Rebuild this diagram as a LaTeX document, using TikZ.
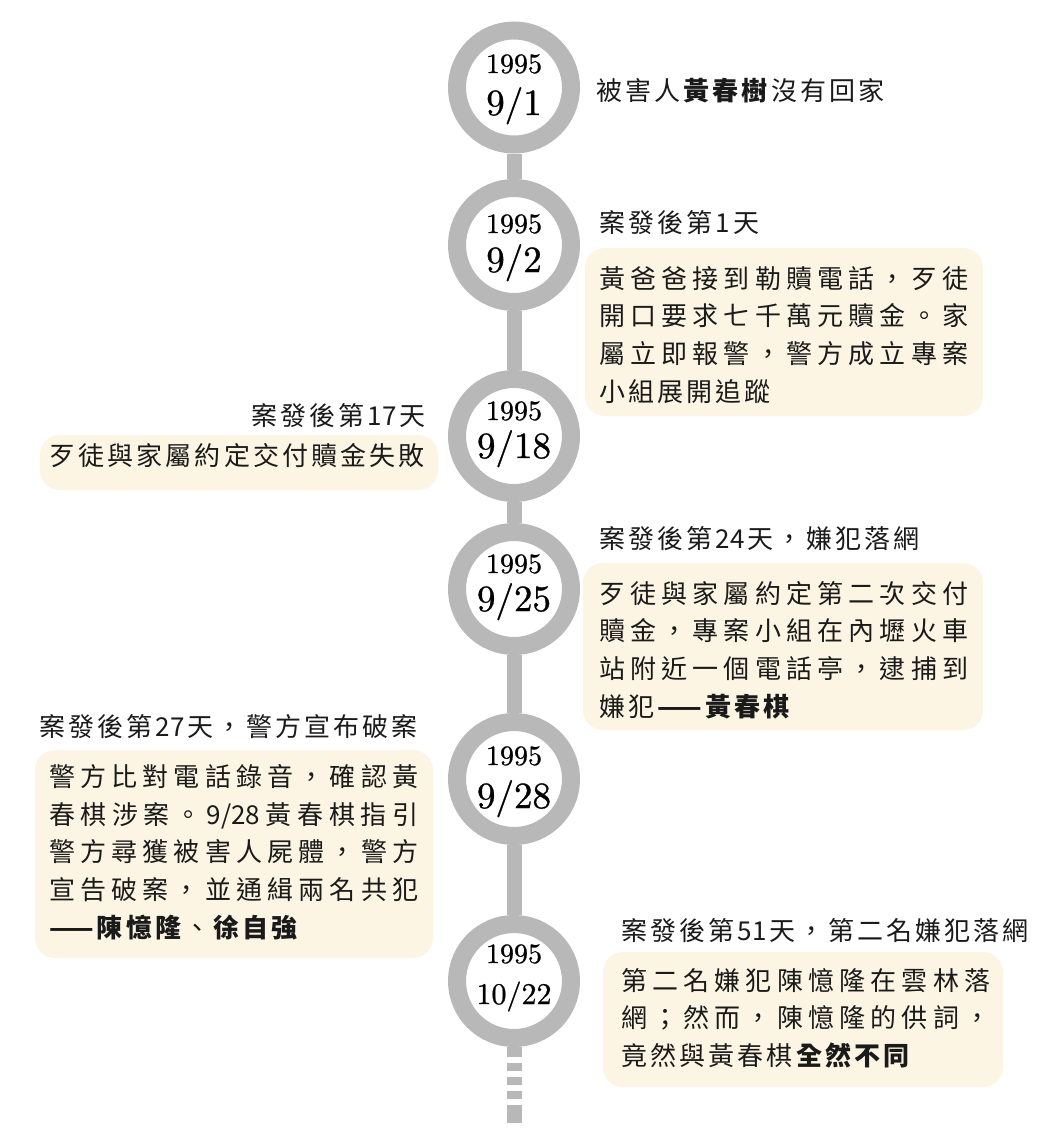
\documentclass[tikz,border=0pt]{standalone}
\usepackage{fontspec}
\setmainfont{Noto Sans CJK TC}
\newfontfamily\datefont{lmroman10-regular.otf}[FakeBold=0.8]
\definecolor{ringgray}{RGB}{184,184,184}
\definecolor{cream}{RGB}{253,245,228}
\definecolor{inkc}{RGB}{26,26,26}
\newlength\bodyw
\setlength\bodyw{369pt}
\def\cjkgap{3.15pt}
\makeatletter
\def\sp@end{\sp@end}
\def\spreadwith#1#2{\def\sp@sep{#1}\sp@a#2\sp@end}
\def\sp@a#1{{#1}\sp@b}
\def\sp@b#1{\ifx\sp@end#1\else\sp@sep{#1}\expandafter\sp@b\fi}
\def\BS#1{{\bfseries\expandafter\spreadwith\expandafter{\sp@sep}{#1}}}
\makeatother
\newcommand\JL[1]{\hbox to \bodyw{\spreadwith{\hfill}{#1}}}
\newcommand\NL[1]{\hbox{\spreadwith{\hskip\cjkgap}{#1}}}
\tikzset{
  ringc/.style={circle, draw=ringgray, fill=white, line width=18pt, minimum size=114pt, inner sep=0pt},
  spine/.style={draw=ringgray, line width=15pt},
  yearlbl/.style={anchor=base, inner sep=0pt, text=black, font=\datefont\fontsize{28}{28}\selectfont},
  datelbl/.style={anchor=base, inner sep=0pt, text=black, font=\datefont\fontsize{37}{37}\selectfont},
  datesm/.style={datelbl, font=\datefont\fontsize{30}{30}\selectfont},
  cjk/.style={inner sep=0pt, text=inkc, font=\fontsize{26}{37.8}\selectfont},
  boxfill/.style={fill=cream, rounded corners=20pt}
}
\begin{document}
\begin{tikzpicture}[x=1pt,y=-1pt]
\useasboundingbox (0,0) rectangle (1044,1138);
\fill[white] (0,0) rectangle (1044,1138);

% boxes
\path[boxfill] (585,248) rectangle (983,416);
\path[boxfill] (40,435) rectangle (438,490);
\path[boxfill] (583,563) rectangle (983,730);
\path[boxfill] (35,750) rectangle (433,958);
\path[boxfill] (603,952) rectangle (1003,1087);

% circles
\node[ringc] (c1) at (514,87.5) {};
\node[ringc] (c2) at (514,245) {};
\node[ringc] (c3) at (514,436) {};
\node[ringc] (c4) at (514,589) {};
\node[ringc] (c5) at (514,779) {};
\node[ringc] (c6) at (514,981) {};
\coordinate (tail) at (514,1123);

\draw[spine] (c1) -- (c2);
\draw[spine] (c2) -- (c3);
\draw[spine] (c3) -- (c4);
\draw[spine] (c4) -- (c5);
\draw[spine] (c5) -- (c6);
\draw[spine, dash pattern=on 10pt off 6pt on 8pt off 6pt on 7.5pt off 6pt on 8.3pt off 5.7pt on 30pt] (c6) -- (tail);

% dates
\node[yearlbl] (y1) at (514,73) {1995};
\node[datelbl] (d1) at (514,115) {9/1};
\node[yearlbl] (y2) at (514,233) {1995};
\node[datelbl] (d2) at (514,272) {9/2};
\node[yearlbl] (y3) at (514,420) {1995};
\node[datelbl] (d3) at (514,458) {9/18};
\node[yearlbl] (y4) at (514,573) {1995};
\node[datelbl] (d4) at (514,611) {9/25};
\node[yearlbl] (y5) at (514,765) {1995};
\node[datelbl] (d5) at (514,808) {9/28};
\node[yearlbl] (y6) at (514,963) {1995};
\node[datesm] (d6) at (514,1004) {10/22};

% event 1
\node[cjk, anchor=base west] (l1) at (596,100) {\NL{被害人{\BS{黃春樹}}沒有回家}};

% event 2
\node[cjk, anchor=base west] (l2) at (599,232) {\NL{案發後第{1}天}};
\node[cjk, anchor=base west] (t2) at (599,288) {\vtop{%
\JL{黃爸爸接到勒贖電話，歹徒}%
\JL{開口要求七千萬元贖金。家}%
\JL{屬立即報警，警方成立專案}%
\NL{小組展開追蹤}}};

% event 3
\node[cjk, anchor=base east] (l3) at (426,425) {\NL{案發後第{17}天}};
\node[cjk, anchor=base west] (t3) at (49,465) {\NL{歹徒與家屬約定交付贖金失敗}};

% event 4
\node[cjk, anchor=base west] (l4) at (599,548) {\NL{案發後第{24}天，嫌犯落網}};
\node[cjk, anchor=base west] (t4) at (599,603) {\vtop{%
\JL{歹徒與家屬約定第二次交付}%
\JL{贖金，專案小組在內壢火車}%
\JL{站附近一個電話亭，逮捕到}%
\NL{嫌犯{\BS{{——}黃春棋}}}}};

% event 5
\node[cjk, anchor=base east] (l5) at (418,736) {\NL{案發後第{27}天，警方宣布破案}};
\node[cjk, anchor=base west] (t5) at (49,786.3) {\vtop{%
\JL{警方比對電話錄音，確認黃}%
\JL{春棋涉案。{9/28}黃春棋指引}%
\JL{警方尋獲被害人屍體，警方}%
\JL{宣告破案，並通緝兩名共犯}%
\NL{{\BS{{——}陳憶隆}}、{\BS{徐自強}}}}};

% event 6
\node[cjk, anchor=base west] (l6) at (621,940) {\NL{案發後第{51}天，第二名嫌犯落網}};
\node[cjk, anchor=base west] (t6) at (621,990) {\vtop{%
\JL{第二名嫌犯陳憶隆在雲林落}%
\JL{網；然而，陳憶隆的供詞，}%
\NL{竟然與黃春棋{\BS{全然不同}}}}};
\end{tikzpicture}
\end{document}
